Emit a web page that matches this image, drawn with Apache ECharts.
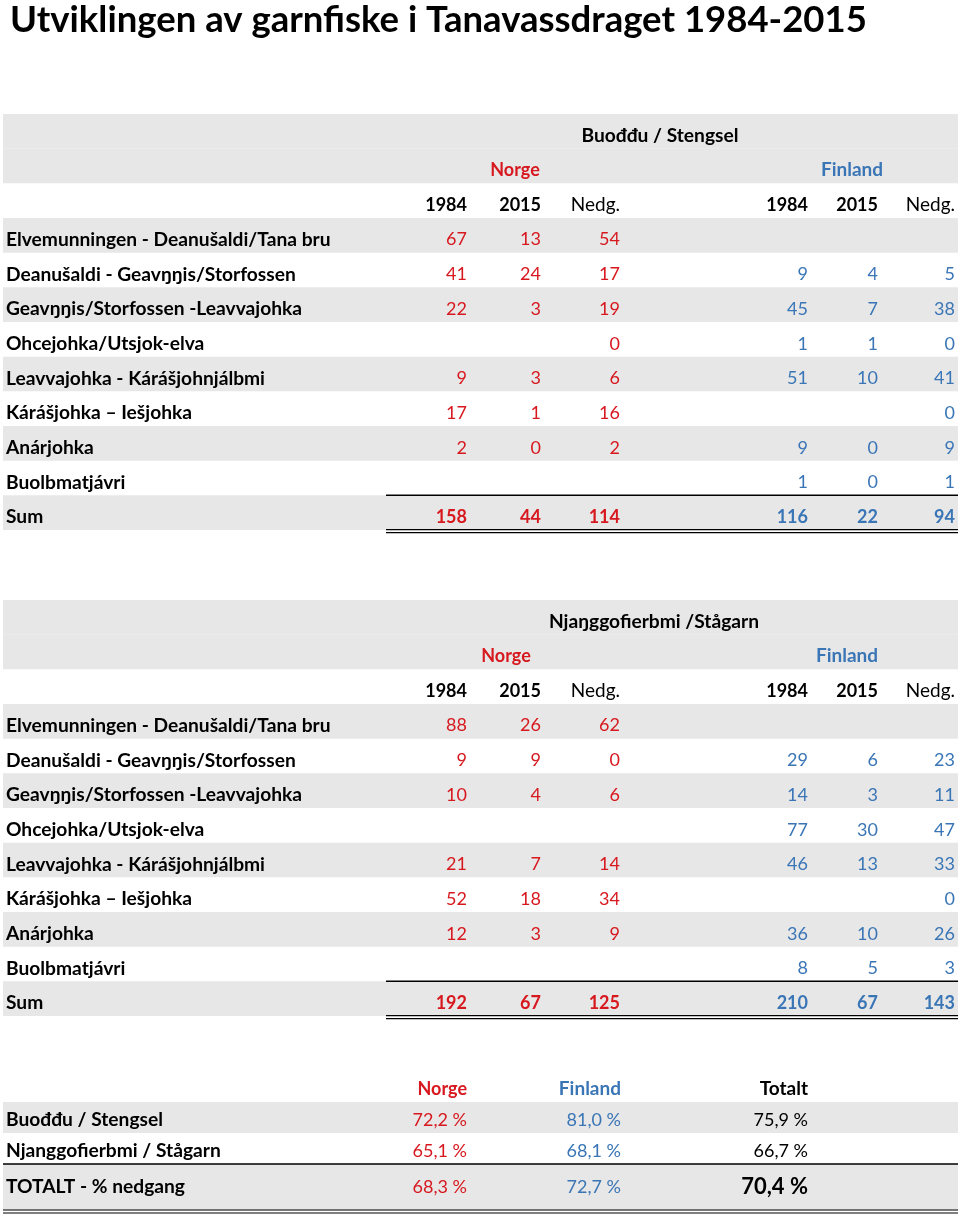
<!DOCTYPE html>
<html>
<head>
<meta charset="utf-8">
<script src="https://cdn.jsdelivr.net/npm/echarts@6/dist/echarts.min.js"></script>
<style>
  html, body { margin: 0; padding: 0; background: #fff; }
  #chart { width: 960px; height: 1216px; }
</style>
</head>
<body>
<div id="chart"></div>
<script>
// ---------------- DATA ----------------
const titleText = 'Utviklingen av garnfiske i Tanavassdraget 1984-2015';
const stretches = [
  'Elvemunningen - Deanušaldi/Tana bru',
  'Deanušaldi - Geavŋŋis/Storfossen',
  'Geavŋŋis/Storfossen -Leavvajohka',
  'Ohcejohka/Utsjok-elva',
  'Leavvajohka - Kárášjohnjálbmi',
  'Kárášjohka – Iešjohka',
  'Anárjohka',
  'Buolbmatjávri'
];
const yearHeaders = ['1984', '2015', 'Nedg.'];
const countryNames = ['Norge', 'Finland'];
const sumLabel = 'Sum';

// Buođđu / Stengsel
const stengselTitle = 'Buođđu / Stengsel';
const stengselNorge1984 = [67, 41, 22, null, 9, 17, 2, null];
const stengselNorge2015 = [13, 24, 3, null, 3, 1, 0, null];
const stengselNorgeNedg = [54, 17, 19, 0, 6, 16, 2, null];
const stengselFinland1984 = [null, 9, 45, 1, 51, null, 9, 1];
const stengselFinland2015 = [null, 4, 7, 1, 10, null, 0, 0];
const stengselFinlandNedg = [null, 5, 38, 0, 41, 0, 9, 1];
const stengselSumNorge = [158, 44, 114];
const stengselSumFinland = [116, 22, 94];

// Njaŋggofierbmi / Stågarn
const stagarnTitle = 'Njaŋggofierbmi /Stågarn';
const stagarnNorge1984 = [88, 9, 10, null, 21, 52, 12, null];
const stagarnNorge2015 = [26, 9, 4, null, 7, 18, 3, null];
const stagarnNorgeNedg = [62, 0, 6, null, 14, 34, 9, null];
const stagarnFinland1984 = [null, 29, 14, 77, 46, null, 36, 8];
const stagarnFinland2015 = [null, 6, 3, 30, 13, null, 10, 5];
const stagarnFinlandNedg = [null, 23, 11, 47, 33, 0, 26, 3];
const stagarnSumNorge = [192, 67, 125];
const stagarnSumFinland = [210, 67, 143];

// Summary (% nedgang)
const summaryHeaders = ['Norge', 'Finland', 'Totalt'];
const summaryRows = ['Buođđu / Stengsel', 'Njanggofierbmi / Stågarn', 'TOTALT - % nedgang'];
const summaryNorge = [72.2, 65.1, 68.3];
const summaryFinland = [81.0, 68.1, 72.7];
const summaryTotalt = [75.9, 66.7, 70.4];

// ---------------- LAYOUT / STYLE ----------------
const FONT = 'Lato, "DejaVu Sans", sans-serif';
const FS = 18;        // numbers
const FS_TXT = 19.2;  // text labels
const RED = '#d7191f';
const BLUE = '#3a76b6';
const BLACK = '#000000';
const GRAY = '#e7e7e7';
const colRight = { label: 6, n84: 467, n15: 541, nNd: 620, f84: 808, f15: 878, fNd: 955 };
const bandLeft = 3, bandRight = 958, sumLineLeft = 386;

function fmt(v) { return v == null ? '' : String(v); }
function pct(v) { return v.toFixed(1).replace('.', ',') + ' %'; }
function cell(x, text, o) {
  o = o || {};
  return { x: x, text: text, align: o.align || 'right', color: o.color || BLACK,
           weight: o.weight || 'normal', size: o.size || FS };
}

function buildCountTable(title, headerPos, n84, n15, nNd, f84, f15, fNd, sumN, sumF) {
  const rows = [];
  rows.push({ span: 1, bg: true, cells: [cell(headerPos.title, title, { align: 'center', weight: 'bold', size: FS_TXT })] });
  rows.push({ span: 1, bg: true, cells: [
    cell(headerPos.norge, countryNames[0], { align: 'center', weight: 'bold', color: RED }),
    cell(headerPos.finland, countryNames[1], { align: 'center', weight: 'bold', color: BLUE, size: 19 })
  ] });
  rows.push({ span: 1, bg: false, cells: [
    cell(colRight.n84, yearHeaders[0], { weight: 'bold' }),
    cell(colRight.n15, yearHeaders[1], { weight: 'bold' }),
    cell(colRight.nNd, yearHeaders[2], { size: 19 }),
    cell(colRight.f84, yearHeaders[0], { weight: 'bold' }),
    cell(colRight.f15, yearHeaders[1], { weight: 'bold' }),
    cell(colRight.fNd, yearHeaders[2], { size: 19 })
  ] });
  stretches.forEach(function (name, i) {
    rows.push({ span: 1, bg: i % 2 === 0, cells: [
      cell(colRight.label, name, { align: 'left', weight: 'bold', size: FS_TXT }),
      cell(colRight.n84, fmt(n84[i]), { color: RED }),
      cell(colRight.n15, fmt(n15[i]), { color: RED }),
      cell(colRight.nNd, fmt(nNd[i]), { color: RED }),
      cell(colRight.f84, fmt(f84[i]), { color: BLUE }),
      cell(colRight.f15, fmt(f15[i]), { color: BLUE }),
      cell(colRight.fNd, fmt(fNd[i]), { color: BLUE })
    ] });
  });
  rows.push({ span: 1, bg: true, topLine: sumLineLeft, doubleBottom: sumLineLeft, cells: [
    cell(colRight.label, sumLabel, { align: 'left', weight: 'bold', size: FS_TXT }),
    cell(colRight.n84, fmt(sumN[0]), { color: RED, weight: 'bold' }),
    cell(colRight.n15, fmt(sumN[1]), { color: RED, weight: 'bold' }),
    cell(colRight.nNd, fmt(sumN[2]), { color: RED, weight: 'bold' }),
    cell(colRight.f84, fmt(sumF[0]), { color: BLUE, weight: 'bold' }),
    cell(colRight.f15, fmt(sumF[1]), { color: BLUE, weight: 'bold' }),
    cell(colRight.fNd, fmt(sumF[2]), { color: BLUE, weight: 'bold' })
  ] });
  return rows;
}

const table1 = buildCountTable(stengselTitle, { title: 660, norge: 515, finland: 852 },
  stengselNorge1984, stengselNorge2015, stengselNorgeNedg,
  stengselFinland1984, stengselFinland2015, stengselFinlandNedg,
  stengselSumNorge, stengselSumFinland);
const table2 = buildCountTable(stagarnTitle, { title: 654, norge: 506, finland: 847 },
  stagarnNorge1984, stagarnNorge2015, stagarnNorgeNedg,
  stagarnFinland1984, stagarnFinland2015, stagarnFinlandNedg,
  stagarnSumNorge, stagarnSumFinland);

const sumColX = [467, 621, 808];
const table3 = [];
table3.push({ span: 2, bg: false, cells: [
  cell(sumColX[0], summaryHeaders[0], { weight: 'bold', color: RED }),
  cell(sumColX[1], summaryHeaders[1], { weight: 'bold', color: BLUE, size: 19 }),
  cell(sumColX[2], summaryHeaders[2], { weight: 'bold', size: 19 })
] });
summaryRows.forEach(function (name, i) {
  const last = i === summaryRows.length - 1;
  table3.push({ span: last ? 3 : 2, bg: i % 2 === 0, valign: last ? 'middle' : 'bottom',
    topLine: last ? bandLeft : null, doubleBottom: last ? bandLeft : null,
    cells: [
      cell(colRight.label, name, { align: 'left', weight: 'bold', size: FS_TXT }),
      cell(sumColX[0], pct(summaryNorge[i]), { color: RED }),
      cell(sumColX[1], pct(summaryFinland[i]), { color: BLUE }),
      cell(sumColX[2], pct(summaryTotalt[i]), last ? { weight: 'bold', size: 22 } : {})
    ] });
});

const tables = [
  { rows: table1, top: 114, unit: 34.67 },
  { rows: table2, top: 600, unit: 34.67 },
  { rows: table3, top: 1071, unit: 15.5 }
];

// ---------------- CHART ----------------
const grids = [], xAxes = [], yAxes = [], series = [];
tables.forEach(function (t, ti) {
  let start = 0;
  t.rows.forEach(function (r) { r.start = start; start += r.span; });
  const total = start;
  grids.push({ left: 0, right: 0, top: t.top, height: total * t.unit, containLabel: false });
  xAxes.push({ gridIndex: ti, type: 'value', min: 0, max: 960, show: false });
  yAxes.push({ gridIndex: ti, type: 'value', min: 0, max: total, inverse: true, show: false });
  series.push({
    type: 'custom',
    xAxisIndex: ti, yAxisIndex: ti,
    clip: false,
    silent: true,
    encode: { x: 0, y: 1 },
    data: t.rows.map(function (r) { return [0, r.start]; }),
    renderItem: function (params, api) {
      const r = t.rows[params.dataIndex];
      const p0 = api.coord([0, r.start]);
      const p1 = api.coord([960, r.start + r.span]);
      const top = p0[1], bottom = p1[1];
      const sx = function (v) { return api.coord([v, r.start])[0]; };
      const children = [];
      if (r.bg) {
        children.push({ type: 'rect', shape: { x: sx(bandLeft), y: top, width: sx(bandRight) - sx(bandLeft), height: bottom - top },
          style: { fill: GRAY } });
      }
      if (r.topLine != null) {
        children.push({ type: 'line', shape: { x1: sx(r.topLine), y1: top, x2: sx(bandRight), y2: top },
          style: { stroke: BLACK, lineWidth: 1.5 } });
      }
      if (r.doubleBottom != null) {
        children.push({ type: 'line', shape: { x1: sx(r.doubleBottom), y1: bottom - 0.5, x2: sx(bandRight), y2: bottom - 0.5 },
          style: { stroke: BLACK, lineWidth: 1.2 } });
        children.push({ type: 'line', shape: { x1: sx(r.doubleBottom), y1: bottom + 2.5, x2: sx(bandRight), y2: bottom + 2.5 },
          style: { stroke: BLACK, lineWidth: 1.2 } });
      }
      const ty = r.valign === 'middle' ? (top + bottom) / 2 : bottom - 13;
      r.cells.forEach(function (c) {
        if (!c.text) return;
        children.push({ type: 'text', style: {
          text: c.text, x: sx(c.x), y: ty, align: c.align, verticalAlign: 'middle',
          fill: c.color, fontFamily: FONT, fontSize: c.size, fontWeight: c.weight
        } });
      });
      return { type: 'group', children: children };
    }
  });
});

const chart = echarts.init(document.getElementById('chart'), null, { renderer: 'canvas' });
chart.setOption({
  animation: false,
  backgroundColor: '#ffffff',
  title: {
    text: titleText, left: 5, top: -3,
    textStyle: { fontFamily: FONT, fontSize: 36.5, fontWeight: 'bold', color: BLACK }
  },
  grid: grids,
  xAxis: xAxes,
  yAxis: yAxes,
  series: series
});
</script>
</body>
</html>
